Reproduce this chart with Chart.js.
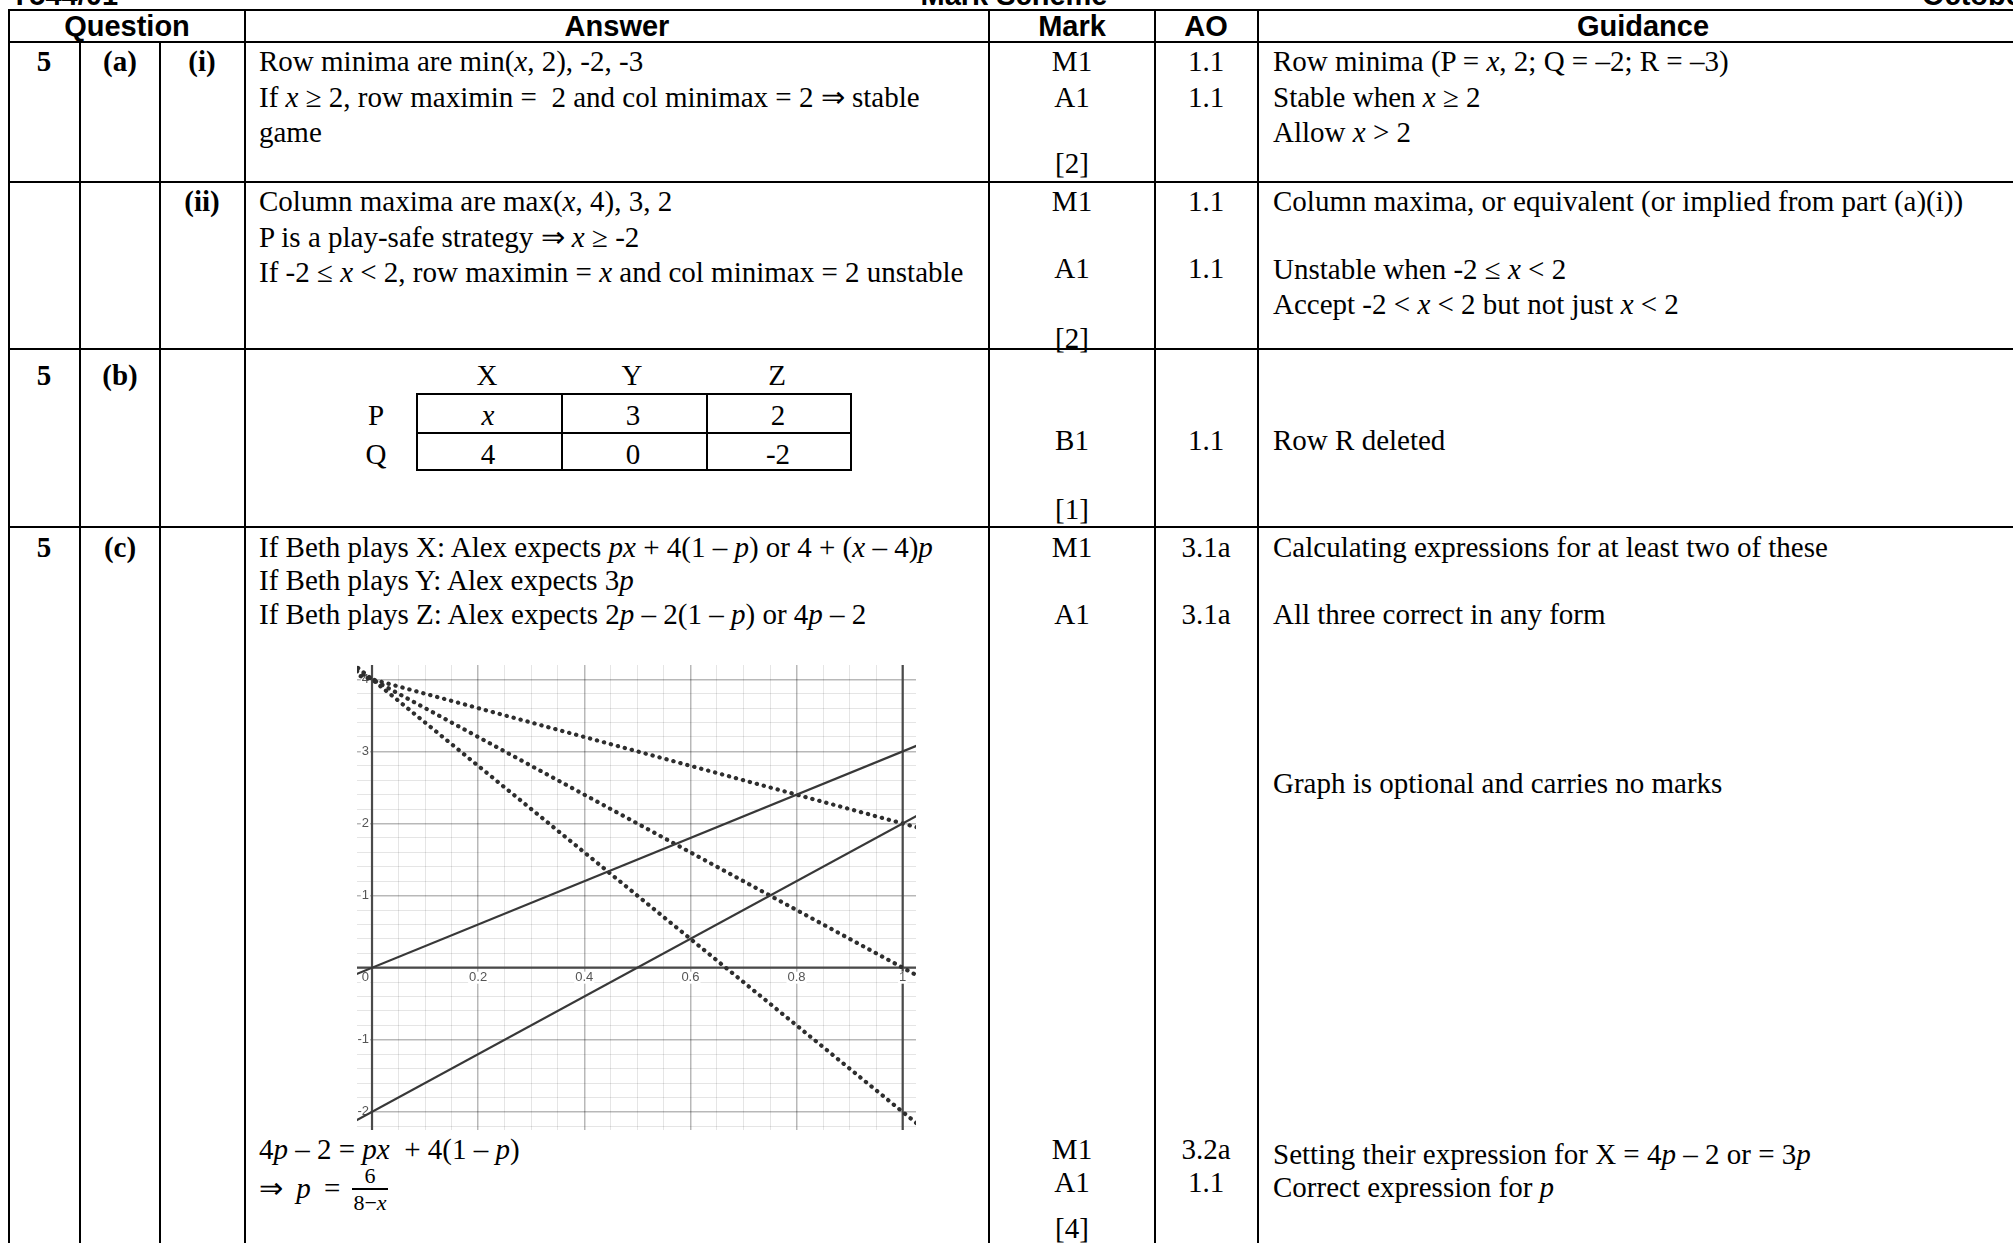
<!DOCTYPE html>
<html><head><meta charset="utf-8">
<script src="https://cdn.jsdelivr.net/npm/chart.js@4.4.1/dist/chart.umd.min.js"></script>
<style>
html,body{margin:0;padding:0;width:2013px;height:1243px;overflow:hidden;background:#fff;}
#page{position:relative;width:2013px;height:1243px;overflow:hidden;}
.t{position:absolute;font-family:"Liberation Serif","Times New Roman",serif;font-size:29px;line-height:29px;white-space:nowrap;color:#000;}
.c{transform:translateX(-50%);}
.b{font-weight:bold;}
.h{font-family:"Liberation Sans",Arial,sans-serif;font-weight:bold;}
.hl{position:absolute;height:2px;background:#000;}
.vl{position:absolute;width:2px;background:#000;}
#graph{position:absolute;left:357px;top:665px;width:559px;height:465px;}
.frac{position:absolute;font-family:"Liberation Serif","Times New Roman",serif;font-size:22px;line-height:20px;text-align:center;}
.frac .bar{height:1.6px;background:#000;margin:2px 0 3px 0;}
</style></head>
<body><div id="page">

<!-- page header (cut off at top) -->
<div class="t h" style="left:10px;top:-19px;">Y544/01</div>
<div class="t h c" style="left:1014px;top:-19px;">Mark Scheme</div>
<div class="t h" style="left:1922px;top:-19px;">October 2021</div>

<!-- table rules -->
<div class="hl" style="left:8px;top:9px;width:2030px;"></div>
<div class="hl" style="left:8px;top:41px;width:2030px;"></div>
<div class="hl" style="left:8px;top:181px;width:2030px;"></div>
<div class="hl" style="left:8px;top:348px;width:2030px;"></div>
<div class="hl" style="left:8px;top:526px;width:2030px;"></div>
<div class="vl" style="left:8px;top:9px;height:1240px;"></div>
<div class="vl" style="left:79px;top:41px;height:1210px;"></div>
<div class="vl" style="left:159px;top:41px;height:1210px;"></div>
<div class="vl" style="left:244px;top:9px;height:1240px;"></div>
<div class="vl" style="left:988px;top:9px;height:1240px;"></div>
<div class="vl" style="left:1154px;top:9px;height:1240px;"></div>
<div class="vl" style="left:1257px;top:9px;height:1240px;"></div>
<div class="vl" style="left:2027px;top:9px;height:1240px;"></div>

<!-- header row -->
<div class="t h c" style="left:127px;top:12px;">Question</div>
<div class="t h c" style="left:617px;top:12px;">Answer</div>
<div class="t h c" style="left:1072px;top:12px;">Mark</div>
<div class="t h c" style="left:1206px;top:12px;">AO</div>
<div class="t h c" style="left:1643px;top:12px;">Guidance</div>

<!-- row (a)(i) -->
<div class="t b c" style="left:44px;top:47px;">5</div>
<div class="t b c" style="left:120px;top:47px;">(a)</div>
<div class="t b c" style="left:202px;top:47px;">(i)</div>
<div class="t" style="left:259px;top:47px;">Row minima are min(<i>x</i>, 2), -2, -3</div>
<div class="t" style="left:259px;top:83px;">If <i>x</i> ≥ 2, row maximin =&nbsp; 2 and col minimax = 2 ⇒ stable</div>
<div class="t" style="left:259px;top:118px;">game</div>
<div class="t c" style="left:1072px;top:47px;">M1</div>
<div class="t c" style="left:1072px;top:83px;">A1</div>
<div class="t c" style="left:1072px;top:149px;">[2]</div>
<div class="t c" style="left:1206px;top:47px;">1.1</div>
<div class="t c" style="left:1206px;top:83px;">1.1</div>
<div class="t" style="left:1273px;top:47px;">Row minima (P = <i>x</i>, 2; Q = –2; R = –3)</div>
<div class="t" style="left:1273px;top:83px;">Stable when <i>x</i> ≥ 2</div>
<div class="t" style="left:1273px;top:118px;">Allow <i>x</i> &gt; 2</div>

<!-- row (a)(ii) -->
<div class="t b c" style="left:202px;top:187px;">(ii)</div>
<div class="t" style="left:259px;top:187px;">Column maxima are max(<i>x</i>, 4), 3, 2</div>
<div class="t" style="left:259px;top:223px;">P is a play-safe strategy ⇒ <i>x</i> ≥ -2</div>
<div class="t" style="left:259px;top:258px;">If -2 ≤ <i>x</i> &lt; 2, row maximin = <i>x</i> and col minimax = 2 unstable</div>
<div class="t c" style="left:1072px;top:187px;">M1</div>
<div class="t c" style="left:1072px;top:254px;">A1</div>
<div class="t c" style="left:1072px;top:324px;">[2]</div>
<div class="t c" style="left:1206px;top:187px;">1.1</div>
<div class="t c" style="left:1206px;top:254px;">1.1</div>
<div class="t" style="left:1273px;top:187px;">Column maxima, or equivalent (or implied from part (a)(i))</div>
<div class="t" style="left:1273px;top:255px;">Unstable when -2 ≤ <i>x</i> &lt; 2</div>
<div class="t" style="left:1273px;top:290px;">Accept -2 &lt; <i>x</i> &lt; 2 but not just <i>x</i> &lt; 2</div>

<!-- row (b) -->
<div class="t b c" style="left:44px;top:361px;">5</div>
<div class="t b c" style="left:120px;top:361px;">(b)</div>
<div class="t c" style="left:487px;top:361px;">X</div>
<div class="t c" style="left:632px;top:361px;">Y</div>
<div class="t c" style="left:777px;top:361px;">Z</div>
<div class="t c" style="left:376px;top:401px;">P</div>
<div class="t c" style="left:376px;top:440px;">Q</div>
<div class="hl" style="left:416px;top:393px;width:436px;"></div>
<div class="hl" style="left:416px;top:432px;width:436px;"></div>
<div class="hl" style="left:416px;top:469px;width:436px;"></div>
<div class="vl" style="left:416px;top:393px;height:78px;"></div>
<div class="vl" style="left:561px;top:393px;height:78px;"></div>
<div class="vl" style="left:706px;top:393px;height:78px;"></div>
<div class="vl" style="left:850px;top:393px;height:78px;"></div>
<div class="t c" style="left:488px;top:401px;"><i>x</i></div>
<div class="t c" style="left:633px;top:401px;">3</div>
<div class="t c" style="left:778px;top:401px;">2</div>
<div class="t c" style="left:488px;top:440px;">4</div>
<div class="t c" style="left:633px;top:440px;">0</div>
<div class="t c" style="left:778px;top:440px;">-2</div>
<div class="t c" style="left:1072px;top:426px;">B1</div>
<div class="t c" style="left:1072px;top:495px;">[1]</div>
<div class="t c" style="left:1206px;top:426px;">1.1</div>
<div class="t" style="left:1273px;top:426px;">Row R deleted</div>

<!-- row (c) -->
<div class="t b c" style="left:44px;top:533px;">5</div>
<div class="t b c" style="left:120px;top:533px;">(c)</div>
<div class="t" style="left:259px;top:533px;">If Beth plays X: Alex expects <i>px</i> + 4(1 – <i>p</i>) or 4 + (<i>x</i> – 4)<i>p</i></div>
<div class="t" style="left:259px;top:566px;">If Beth plays Y: Alex expects 3<i>p</i></div>
<div class="t" style="left:259px;top:600px;">If Beth plays Z: Alex expects 2<i>p</i> – 2(1 – <i>p</i>) or 4<i>p</i> – 2</div>
<div class="t c" style="left:1072px;top:533px;">M1</div>
<div class="t c" style="left:1072px;top:600px;">A1</div>
<div class="t c" style="left:1206px;top:533px;">3.1a</div>
<div class="t c" style="left:1206px;top:600px;">3.1a</div>
<div class="t" style="left:1273px;top:533px;">Calculating expressions for at least two of these</div>
<div class="t" style="left:1273px;top:600px;">All three correct in any form</div>
<div class="t" style="left:1273px;top:769px;">Graph is optional and carries no marks</div>

<canvas id="graph" width="559" height="465"></canvas>

<div class="t" style="left:259px;top:1135px;">4<i>p</i> – 2 = <i>px</i>&nbsp; + 4(1 – <i>p</i>)</div>
<div class="t" style="left:259px;top:1174px;word-spacing:6px;">⇒ <i>p</i> =</div>
<div class="frac" style="left:352px;top:1166px;width:36px;"><div>6</div><div class="bar"></div><div>8−<i>x</i></div></div>
<div class="t c" style="left:1072px;top:1135px;">M1</div>
<div class="t c" style="left:1072px;top:1168px;">A1</div>
<div class="t c" style="left:1072px;top:1214px;">[4]</div>
<div class="t c" style="left:1206px;top:1135px;">3.2a</div>
<div class="t c" style="left:1206px;top:1168px;">1.1</div>
<div class="t" style="left:1273px;top:1140px;">Setting their expression for X = 4<i>p</i> – 2 or = 3<i>p</i></div>
<div class="t" style="left:1273px;top:1173px;">Correct expression for <i>p</i></div>

</div>
<script>
// ---- data ----
const pEnds = [-0.1, 1.1];            // p at the two ends of each drawn line
const bethY = [-0.3, 3.3];            // Beth plays Y : 3p
const bethZ = [-2.4, 2.4];            // Beth plays Z : 4p - 2
const bethX_x2 = [4.2, 1.8];          // Beth plays X with x = 2
const bethX_x0 = [4.4, -0.4];         // Beth plays X with x = 0
const bethX_xm2 = [4.6, -2.6];        // Beth plays X with x = -2
const xTickValues = [0, 0.2, 0.4, 0.6, 0.8, 1];
const xTickLabels = ['0', '0.2', '0.4', '0.6', '0.8', '1'];
const yTickValues = [4, 3, 2, 1, -1, -2];
const yTickLabels = ['4', '3', '2', '1', '-1', '-2'];

const pts = ys => pEnds.map((p, i) => ({x: p, y: ys[i]}));
const solid = ys => ({data: pts(ys), showLine: true, pointRadius: 0, borderColor: '#383838', borderWidth: 2.2});
const dotted = ys => ({data: pts(ys), showLine: true, pointRadius: 0, borderColor: '#2e2e2e', borderWidth: 4.2,
  borderDash: [0.3, 6.9], borderCapStyle: 'round'});

const isMajor = (v, step) => Math.abs(v / step - Math.round(v / step)) < 1e-6;

const geoAxes = {
  id: 'geoAxes',
  beforeDatasetsDraw(chart) {
    const {ctx, chartArea: a, scales: {x, y}} = chart;
    const x0 = x.getPixelForValue(0), x1 = x.getPixelForValue(1), y0 = y.getPixelForValue(0);
    ctx.save();
    ctx.strokeStyle = '#4a4a4a';
    ctx.lineWidth = 2.2;
    ctx.beginPath();
    ctx.moveTo(x0, a.top); ctx.lineTo(x0, a.bottom);
    ctx.moveTo(x1, a.top); ctx.lineTo(x1, a.bottom);
    ctx.moveTo(a.left, y0); ctx.lineTo(a.right, y0);
    ctx.stroke();
    ctx.font = '13px "Liberation Sans", Arial, sans-serif';
    ctx.textBaseline = 'middle';
    const label = (txt, px, py, align) => {
      ctx.textAlign = align;
      const w = ctx.measureText(txt).width;
      const lx = align === 'center' ? px - w / 2 : px - w;
      ctx.fillStyle = '#fff';
      ctx.fillRect(lx - 1, py - 6, w + 2, 12);
      ctx.fillStyle = '#555';
      ctx.fillText(txt, px, py);
    };
    xTickValues.forEach((v, i) => {
      if (v === 0) label(xTickLabels[i], x0 - 3, y0 + 10, 'right');
      else label(xTickLabels[i], x.getPixelForValue(v), y0 + 10, 'center');
    });
    yTickValues.forEach((v, i) => label(yTickLabels[i], x0 - 3, y.getPixelForValue(v), 'right'));
    ctx.restore();
  }
};

new Chart(document.getElementById('graph'), {
  type: 'scatter',
  data: {datasets: [solid(bethY), solid(bethZ), dotted(bethX_x2), dotted(bethX_x0), dotted(bethX_xm2)]},
  options: {
    responsive: false, maintainAspectRatio: false, animation: false,
    layout: {padding: 0},
    plugins: {legend: {display: false}, tooltip: {enabled: false}},
    scales: {
      x: {type: 'linear', min: -0.0283, max: 1.0251,
        ticks: {display: false, stepSize: 0.05, includeBounds: false},
        border: {display: false},
        grid: {drawTicks: false,
          color: c => isMajor(c.tick.value, 0.2) ? 'rgba(0,0,0,0.28)' : 'rgba(0,0,0,0.1)',
          lineWidth: c => isMajor(c.tick.value, 0.2) ? 1.5 : 1}},
      y: {type: 'linear', min: -2.251, max: 4.198,
        ticks: {display: false, stepSize: 0.2, includeBounds: false},
        border: {display: false},
        grid: {drawTicks: false,
          color: c => isMajor(c.tick.value, 1) ? 'rgba(0,0,0,0.28)' : 'rgba(0,0,0,0.1)',
          lineWidth: c => isMajor(c.tick.value, 1) ? 1.5 : 1}}
    }
  },
  plugins: [geoAxes]
});
</script>
</body></html>
